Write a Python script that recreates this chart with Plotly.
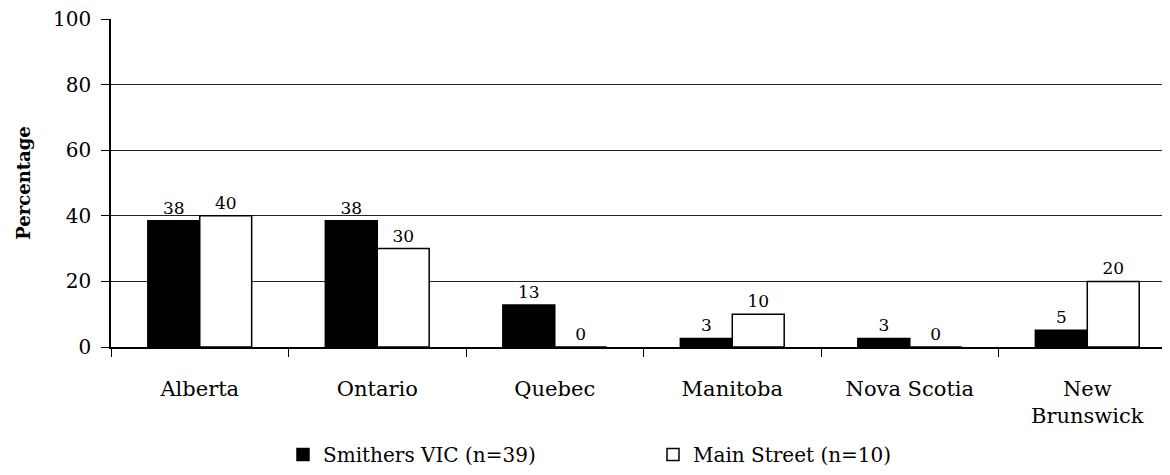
import plotly.graph_objects as go

categories = ["Alberta", "Ontario", "Quebec", "Manitoba", "Nova Scotia", "New<br>Brunswick"]
smithers_values = [38.5, 38.5, 12.8, 2.6, 2.6, 5.1]
smithers_labels = ["38", "38", "13", "3", "3", "5"]
main_values = [40, 30, 0, 10, 0, 20]
main_labels = ["40", "30", "0", "10", "0", "20"]
y_ticks = [0, 20, 40, 60, 80, 100]

FONT = "DejaVu Serif"
W, H = 1162, 467

fig = go.Figure()
fig.add_trace(go.Bar(
    x=categories, y=smithers_values, name="Smithers VIC (n=39)",
    marker=dict(color="black", line=dict(color="black", width=1.5)),
    text=smithers_labels, textposition="outside", cliponaxis=False,
    textfont=dict(family=FONT, size=17, color="black"),
))
fig.add_trace(go.Bar(
    x=categories, y=main_values, name="Main Street (n=10)",
    marker=dict(color="white", line=dict(color="black", width=1.5)),
    text=main_labels, textposition="outside", cliponaxis=False,
    textfont=dict(family=FONT, size=17, color="black"),
))

fig.update_layout(
    width=W, height=H,
    margin=dict(l=103, r=0, t=11, b=128, autoexpand=False),
    paper_bgcolor="white", plot_bgcolor="white",
    barmode="group", bargap=0.415, bargroupgap=0,
    font=dict(family=FONT, size=20, color="black"),
    showlegend=True,
    legend=dict(
        orientation="h", xref="container", yref="container",
        x=275 / W, xanchor="left", y=1 - 427 / H, yanchor="top",
        font=dict(family=FONT, size=20, color="black"),
        entrywidth=325, entrywidthmode="pixels",
        bgcolor="rgba(0,0,0,0)",
    ),
)
fig.update_xaxes(
    range=[-0.5, 5.466], tickson="boundaries", ticks="outside", ticklen=8,
    tickcolor="black", tickwidth=1, showline=True, linecolor="black", linewidth=1.5,
    showgrid=False, tickfont=dict(family=FONT, size=21), ticklabelstandoff=22,
    automargin=False, ticklabeloverflow="allow",
)
fig.update_yaxes(
    range=[0, 100.01], tickvals=y_ticks, ticks="outside", ticklen=8,
    tickcolor="black", tickwidth=1, showline=True, linecolor="black", linewidth=1.5,
    showgrid=True, gridcolor="#222", gridwidth=1, zeroline=False,
    tickfont=dict(family=FONT, size=20), automargin=False, ticklabelstandoff=6,
    ticklabeloverflow="allow",
    title=dict(text="<b>Percentage</b>", font=dict(family=FONT, size=18), standoff=18),
)

fig.write_html("out.html")
